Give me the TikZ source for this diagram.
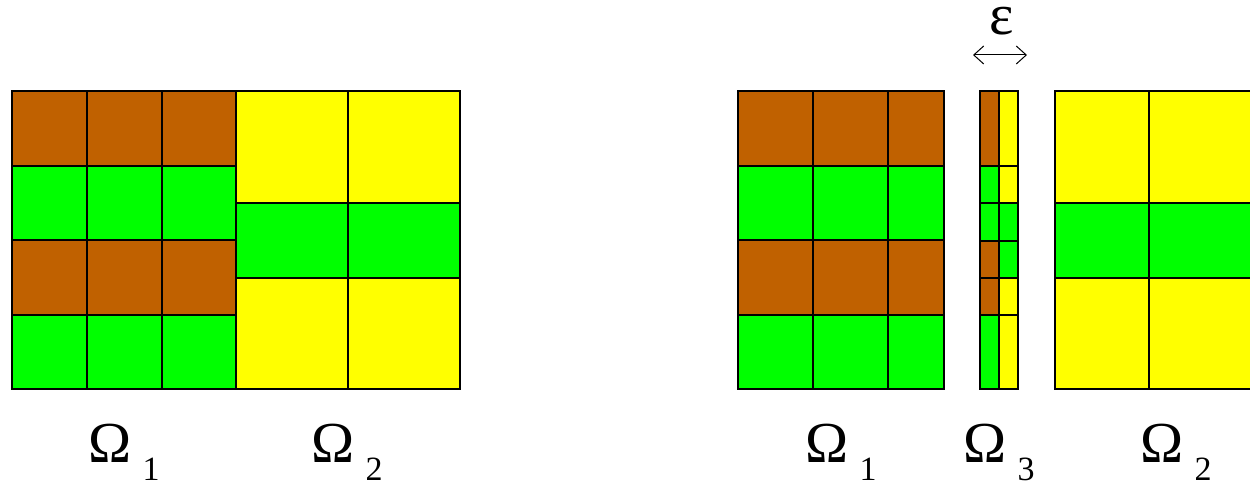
\documentclass[tikz,border=0pt]{standalone}
\usepackage{fontspec}
\setmainfont{Liberation Serif}
\usetikzlibrary{arrows.meta}

\definecolor{cellbrown}{RGB}{192,97,0}
\definecolor{cellgreen}{RGB}{0,255,0}
\definecolor{cellyellow}{RGB}{255,255,0}

\begin{document}
\begin{tikzpicture}[
                x=0.5pt, y=-0.5pt,
                cell/.style={draw, fill=#1, line width=0.7pt},
                omega/.style={font=\fontsize{29}{31}\selectfont, anchor=base, inner sep=1pt},
                sub/.style={font=\fontsize{17}{19}\selectfont, anchor=base, inner sep=1pt},
                arrow/.style={{Straight Barb[length=5pt,width=9pt]}-{Straight Barb[length=5pt,width=9pt]}, line width=0.5pt}
            ]
                \useasboundingbox (0,0) rectangle (1250,485);

                % left: Omega_1
                \foreach \y/\h/\c in {91/75/cellbrown, 166/74/cellgreen, 240/75/cellbrown, 315/74/cellgreen}
                    \foreach \x/\w in {12/75, 87/75, 162/74}
                        \draw[cell=\c] (\x,\y) rectangle ++(\w,\h);
                % left: Omega_2
                \foreach \y/\h/\c in {91/112/cellyellow, 203/75/cellgreen, 278/111/cellyellow}
                    \foreach \x/\w in {236/112, 348/112}
                        \draw[cell=\c] (\x,\y) rectangle ++(\w,\h);

                % right: Omega_1
                \foreach \y/\h/\c in {91/75/cellbrown, 166/74/cellgreen, 240/75/cellbrown, 315/74/cellgreen}
                    \foreach \x/\w in {738/75, 813/75, 888/56}
                        \draw[cell=\c] (\x,\y) rectangle ++(\w,\h);
                % right: Omega_3 (strip)
                \foreach \y/\h/\cl/\cr in {91/75/cellbrown/cellyellow, 166/37/cellgreen/cellyellow, 203/38/cellgreen/cellgreen,
                                           241/37/cellbrown/cellgreen, 278/37/cellbrown/cellyellow, 315/74/cellgreen/cellyellow} {
                    \draw[cell=\cl] (980,\y) rectangle ++(19,\h);
                    \draw[cell=\cr] (999,\y) rectangle ++(19,\h);
                }
                % right: Omega_2
                \foreach \y/\h/\c in {91/112/cellyellow, 203/75/cellgreen, 278/111/cellyellow}
                    \foreach \x/\w in {1055/94, 1149/110}
                        \draw[cell=\c] (\x,\y) rectangle ++(\w,\h);

                % width of the strip
                \node[omega] (eps) at (1002,35) {ε};
                \coordinate (epsL) at (973,55);
                \coordinate (epsR) at (1027,55);
                \draw[arrow] (epsL) -- (epsR);

                % labels
                \node[omega] (lo1) at (110,463) {Ω};
                \node[sub]   (ls1) at (151,481) {1};
                \node[omega] (lo2) at (333,463) {Ω};
                \node[sub]   (ls2) at (374,481) {2};
                \node[omega] (ro1) at (827,463) {Ω};
                \node[sub]   (rs1) at (868,481) {1};
                \node[omega] (ro3) at (985,463) {Ω};
                \node[sub]   (rs3) at (1026,481) {3};
                \node[omega] (ro2) at (1162,463) {Ω};
                \node[sub]   (rs2) at (1203,481) {2};
            \end{tikzpicture}
\end{document}
